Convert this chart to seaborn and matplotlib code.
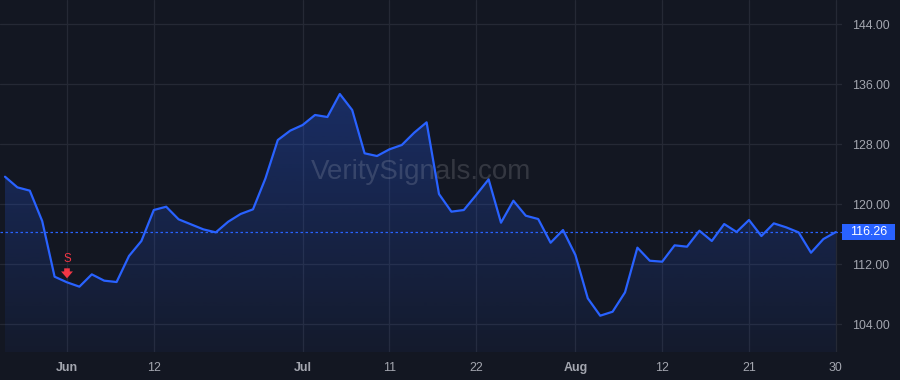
import numpy as np
import pandas as pd
import matplotlib
matplotlib.use("Agg")
import matplotlib.pyplot as plt
from matplotlib.patches import Rectangle
import seaborn as sns

# ---------------- data ----------------
dates = [
    "2024-05-24", "2024-05-28", "2024-05-29", "2024-05-30", "2024-05-31",
    "2024-06-03", "2024-06-04", "2024-06-05", "2024-06-06", "2024-06-07",
    "2024-06-10", "2024-06-11", "2024-06-12", "2024-06-13", "2024-06-14",
    "2024-06-17", "2024-06-18", "2024-06-20", "2024-06-21", "2024-06-24",
    "2024-06-25", "2024-06-26", "2024-06-27", "2024-06-28", "2024-07-01",
    "2024-07-02", "2024-07-03", "2024-07-05", "2024-07-08", "2024-07-09",
    "2024-07-10", "2024-07-11", "2024-07-12", "2024-07-15", "2024-07-16",
    "2024-07-17", "2024-07-18", "2024-07-19", "2024-07-22", "2024-07-23",
    "2024-07-24", "2024-07-25", "2024-07-26", "2024-07-29", "2024-07-30",
    "2024-07-31", "2024-08-01", "2024-08-02", "2024-08-05", "2024-08-06",
    "2024-08-07", "2024-08-08", "2024-08-09", "2024-08-12", "2024-08-13",
    "2024-08-14", "2024-08-15", "2024-08-16", "2024-08-19", "2024-08-20",
    "2024-08-21", "2024-08-22", "2024-08-23", "2024-08-26", "2024-08-27",
    "2024-08-28", "2024-08-29", "2024-08-30",
]
close = [
    123.64, 122.22, 121.78, 117.73, 110.31,
    109.56, 108.98, 110.62, 109.78, 109.60,
    113.07, 115.07, 119.20, 119.64, 117.96,
    117.29, 116.62, 116.22, 117.64, 118.67,
    119.29, 123.40, 128.53, 129.78, 130.53,
    131.87, 131.60, 134.67, 132.53, 126.76,
    126.40, 127.29, 127.87, 129.51, 130.89,
    121.33, 118.98, 119.20, 121.20, 123.29,
    117.51, 120.44, 118.44, 118.00, 114.84,
    116.53, 113.20, 107.42, 105.11, 105.64,
    108.22, 114.18, 112.44, 112.31, 114.49,
    114.31, 116.44, 115.07, 117.33, 116.27,
    117.87, 115.73, 117.42, 116.89, 116.22,
    113.51, 115.33, 116.26,
]
tick_dates = ["2024-06-03", "2024-06-12", "2024-07-01", "2024-07-11", "2024-07-22",
              "2024-08-01", "2024-08-12", "2024-08-21", "2024-08-30"]
tick_labels = ["Jun", "12", "Jul", "11", "22", "Aug", "12", "21", "30"]
month_labels = ["Jun", "Jul", "Aug"]
price_ticks = [104, 112, 120, 128, 136, 144]
signal_date = "2024-06-03"
signal_label = "S"
watermark = "VeritySignals.com"

# ---------------- style ----------------
BG = "#131722"
GRID = "#252935"
LINE = "#2962ff"
TEXT = "#a3a6af"
RED = "#f23645"

sns.set_theme(style="dark")
plt.rcParams["font.family"] = ["Liberation Sans", "DejaVu Sans"]

df = pd.DataFrame({"date": dates, "close": close})
df["idx"] = np.arange(len(df))
pos = {d: i for i, d in enumerate(dates)}

W, H = 900, 380
fig = plt.figure(figsize=(W / 100, H / 100), dpi=100, facecolor=BG)
ax = fig.add_axes([0, 28 / H, 842 / W, 352 / H])
ax.set_facecolor(BG)

ylo, yhi = 100.27, 147.2
xlo, xhi = -0.403, 67.5

# gradient fill under the line
poly = ax.fill_between(df["idx"], df["close"], ylo, color="none", lw=0)
top_a, bot_a = 0.30, 0.05
vmax = max(close)
grad = np.linspace(bot_a, top_a, 256).reshape(-1, 1)
rgba = np.zeros((256, 1, 4))
rgba[..., 0] = 41 / 255
rgba[..., 1] = 98 / 255
rgba[..., 2] = 255 / 255
rgba[..., 3] = grad
im = ax.imshow(rgba, extent=[xlo, xhi, ylo, vmax], origin="lower", aspect="auto", zorder=1)
im.set_clip_path(poly.get_paths()[0], transform=ax.transData)

sns.lineplot(data=df, x="idx", y="close", ax=ax, color=LINE, lw=1.6, zorder=3)

# last price line
last = close[-1]
ax.axhline(last, color=LINE, lw=0.9, ls=(0, (2, 2)), zorder=2)

ax.set_xlim(xlo, xhi)
ax.set_ylim(ylo, yhi)

# grid
for v in price_ticks:
    ax.axhline(v, color=GRID, lw=0.9, zorder=0)
tpos = [pos[d] for d in tick_dates]
for t in tpos:
    ax.axvline(t, color=GRID, lw=0.9, zorder=0)

ax.set_xticks(tpos)
ax.set_xticklabels(tick_labels)
for lab in ax.get_xticklabels():
    lab.set_color(TEXT)
    lab.set_fontsize(8.9)
    if lab.get_text() in month_labels:
        lab.set_fontweight("bold")
ax.tick_params(axis="x", length=0, pad=7)

ax.yaxis.tick_right()
ax.set_yticks(price_ticks)
ax.set_yticklabels([f"{v:.2f}" for v in price_ticks])
ax.tick_params(axis="y", length=0, pad=7.5, labelcolor=TEXT, labelsize=8.9)

ax.set_xlabel("")
ax.set_ylabel("")
for s in ax.spines.values():
    s.set_visible(False)
ax.grid(False)

# last price tag (box on the price scale, centred on the last value)
ypix = ax.transData.transform((0, last))[1]
fig.patches.append(Rectangle((842 / W, (ypix - 8) / H), 53 / W, 16 / H,
                             transform=fig.transFigure, fc=LINE, ec="none", zorder=5))
fig.text(868.5 / W, ypix / H, f"{last:.2f}", ha="center", va="center",
         color="white", fontsize=8.9, zorder=6)

# sell signal
si = pos[signal_date]
sv = close[si]
p = ax.transData.transform((si, sv))
inv = ax.transData.inverted()
ax.annotate("",
            xy=inv.transform(p + np.array([0, 4])),
            xytext=inv.transform(p + np.array([0, 14])),
            arrowprops=dict(arrowstyle="simple,head_length=0.55,head_width=0.95,tail_width=0.45",
                            color=RED, lw=0, shrinkA=0, shrinkB=0, mutation_scale=9),
            zorder=6)
ax.annotate(signal_label, xy=(si, sv), xytext=(0, 16.5), textcoords="offset points",
            ha="center", va="center", color=RED, fontsize=8.3, zorder=6)

# watermark
ax.text(421 / 842, 1 - 172 / 352, watermark, transform=ax.transAxes, ha="center", va="center",
        fontsize=20, color="#ffffff", alpha=0.14, zorder=2)

fig.savefig("out.png", dpi=100, facecolor=BG)
